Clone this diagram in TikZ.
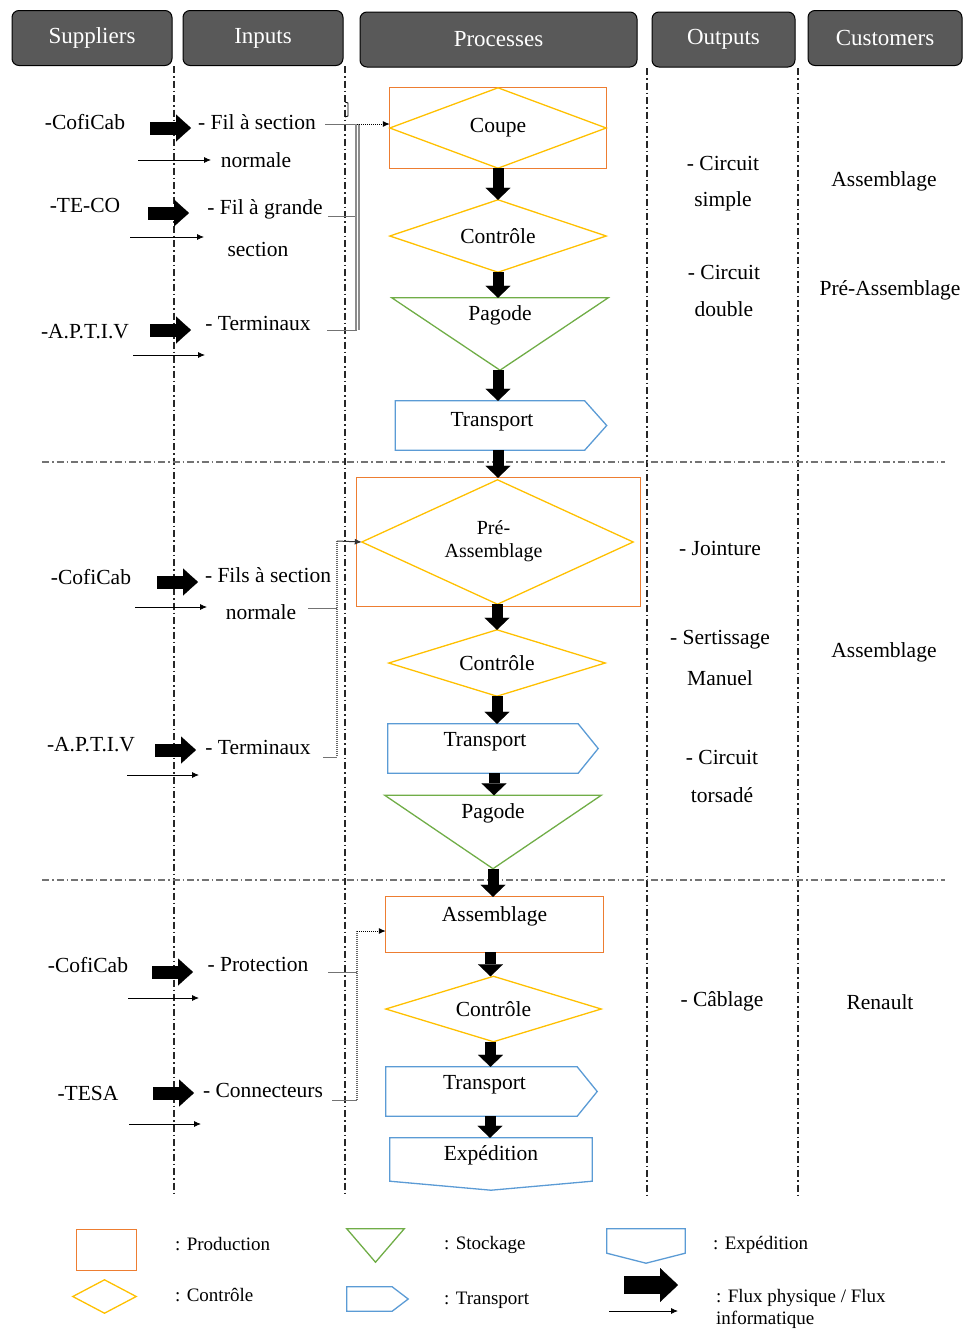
\documentclass[tikz,border=0pt]{standalone}
\usepackage{fontspec}
\setmainfont{Liberation Serif}
\usetikzlibrary{arrows.meta,calc}
\definecolor{hdrgray}{HTML}{595959}
\definecolor{prodorange}{HTML}{ED7D31}
\definecolor{ctrlyellow}{HTML}{FFC000}
\definecolor{stockgreen}{HTML}{70AD47}
\definecolor{shipblue}{HTML}{5B9BD5}
\begin{document}
\begin{tikzpicture}[x=1pt,y=-1pt,
  hdr/.style={draw=black, fill=hdrgray, rounded corners=7pt, line width=1pt,
    text=white, font=\fontsize{23}{26}\selectfont, inner sep=0pt},
  txt/.style={font=\fontsize{21.5}{24}\selectfont, inner sep=0pt},
  smalltxt/.style={font=\fontsize{20}{22}\selectfont, inner sep=0pt},
  legtxt/.style={font=\fontsize{19}{21}\selectfont, inner sep=0pt, anchor=west},
  bbox/.style 2 args={minimum width=#1, minimum height=#2, inner sep=0pt},
  lane/.style={draw=black!85, line width=1.2pt, dash pattern=on 7pt off 3pt on 1.5pt off 3pt},
  band/.style={draw=black!55, line width=1.1pt, dash pattern=on 7pt off 3pt on 1.5pt off 3pt},
  prodshape/.style={draw=prodorange, line width=1.3pt},
  ctrlshape/.style={draw=ctrlyellow, line width=1.3pt},
  stockshape/.style={draw=stockgreen, line width=1.3pt},
  shipshape/.style={draw=shipblue, line width=1.3pt},
  flowv/.style={draw=black, line width=11pt,
    -{Triangle[length=12pt,width=25pt,line width=0.1pt]}},
  flowh/.style={draw=black, line width=13pt,
    -{Triangle[length=15pt,width=27pt,line width=0.1pt]}},
  infoflow/.style={draw=black, line width=0.8pt, -{Latex[length=7pt,width=6pt]}},
  brk/.style={draw=black!55, line width=1pt},
  brkv/.style={draw=black!45, line width=2.2pt, double=white, double distance=0.6pt},
  brkdot/.style={draw=black!60, line width=1pt, densely dotted},
  dotarrow/.style={draw=black, line width=1pt, densely dotted, -{Latex[length=7pt,width=6pt]}}
]
\useasboundingbox (0,0) rectangle (969,1331);

% ---------- column headers ----------
\node[hdr, minimum width=160pt, minimum height=55pt] (hsup) at (92,38) {Suppliers};
\node[hdr, minimum width=160pt, minimum height=55pt] (hinp) at (263,38) {Inputs};
\node[hdr, minimum width=277pt, minimum height=55pt] (hpro) at (498.5,39.5) {Processes};
\node[hdr, minimum width=143pt, minimum height=55pt] (hout) at (723.5,39.5) {Outputs};
\node[hdr, minimum width=154pt, minimum height=55pt] (hcus) at (885,38) {Customers};

% ---------- swim lanes and bands ----------
\draw[lane] (174,66) -- (174,1195);
\draw[lane] (345,66) -- (345,1195);
\draw[lane] (647,68) -- (647,1195);
\draw[lane] (798,68) -- (798,1195);
\draw[band] (42,462) -- (945,462);
\draw[band] (42,880) -- (945,880);

% ---------- process column, band 1 ----------
\node[bbox={216pt}{80pt}] (coupe) at (498,128) {};
\draw[prodshape] (coupe.north west) rectangle (coupe.south east);
\draw[ctrlshape] (coupe.north) -- (coupe.east) -- (coupe.south) -- (coupe.west) -- cycle;
\node[txt] at (coupe.center) {Coupe};

\node[bbox={216pt}{72pt}] (ctrla) at (498,236) {};
\draw[ctrlshape] (ctrla.north) -- (ctrla.east) -- (ctrla.south) -- (ctrla.west) -- cycle;
\node[txt] at (ctrla.center) {Contrôle};

\node[bbox={216pt}{72pt}] (paga) at (500,334) {};
\draw[stockshape] (paga.north west) -- (paga.north east) -- (paga.south) -- cycle;
\node[txt] at ([yshift=-18pt]paga.north) {Pagode};

\node[bbox={211pt}{49pt}] (tra) at (501,425.5) {};
\draw[shipshape] (tra.north west) -- ([xshift=-22pt]tra.north east) -- (tra.east)
  -- ([xshift=-22pt]tra.south east) -- (tra.south west) -- cycle;
\node[txt] at ([xshift=-9pt,yshift=4pt]tra.center) {Transport};

% ---------- process column, band 2 ----------
\node[bbox={283pt}{128pt}] (prea) at (498.5,542) {};
\draw[prodshape] (prea.north west) rectangle (prea.south east);
\node[bbox={271pt}{124pt}] (preadia) at (497.5,542) {};
\draw[ctrlshape] (preadia.north) -- (preadia.east) -- (preadia.south) -- (preadia.west) -- cycle;
\node[smalltxt, align=center] at ([xshift=-5pt,yshift=1pt]prea.center) {Pré-\\[1pt]Assemblage};

\node[bbox={216pt}{66pt}] (ctrlb) at (497,663) {};
\draw[ctrlshape] (ctrlb.north) -- (ctrlb.east) -- (ctrlb.south) -- (ctrlb.west) -- cycle;
\node[txt] at (ctrlb.center) {Contrôle};

\node[bbox={210pt}{49pt}] (trb) at (493,748.5) {};
\draw[shipshape] (trb.north west) -- ([xshift=-20pt]trb.north east) -- (trb.east)
  -- ([xshift=-20pt]trb.south east) -- (trb.south west) -- cycle;
\node[txt] at ([xshift=-8pt,yshift=7pt]trb.center) {Transport};

\node[bbox={216pt}{73pt}] (pagb) at (493,832) {};
\draw[stockshape] (pagb.north west) -- (pagb.north east) -- (pagb.south) -- cycle;
\node[txt] at ([yshift=-18pt]pagb.north) {Pagode};

% ---------- process column, band 3 ----------
\node[bbox={217pt}{55pt}] (asm) at (494.5,924.5) {};
\draw[prodshape] (asm.north west) rectangle (asm.south east);
\node[txt] at ([yshift=8pt]asm.center) {Assemblage};

\node[bbox={215pt}{65pt}] (ctrlc) at (493.5,1009) {};
\draw[ctrlshape] (ctrlc.north) -- (ctrlc.east) -- (ctrlc.south) -- (ctrlc.west) -- cycle;
\node[txt] at (ctrlc.center) {Contrôle};

\node[bbox={211pt}{49pt}] (trc) at (491.5,1091.5) {};
\draw[shipshape] (trc.north west) -- ([xshift=-20pt]trc.north east) -- (trc.east)
  -- ([xshift=-20pt]trc.south east) -- (trc.south west) -- cycle;
\node[txt] at ([xshift=-7pt,yshift=7pt]trc.center) {Transport};

\node[bbox={202pt}{52pt}] (exped) at (491,1164) {};
\draw[shipshape] (exped.north west) -- (exped.north east) -- ([yshift=9pt]exped.south east)
  -- (exped.south) -- ([yshift=9pt]exped.south west) -- cycle;
\node[txt] at ([yshift=9pt]exped.center) {Expédition};

% ---------- physical flow through the processes ----------
\draw[flowv] (coupe.south) -- (coupe.south |- ctrla.north);
\draw[flowv] (ctrla.south) -- (ctrla.south |- paga.north);
\draw[flowv] (ctrla.south |- paga.south) -- (ctrla.south |- tra.north);
\draw[flowv] (ctrla.south |- tra.south) -- (ctrla.south |- prea.north);
\draw[flowv] (preadia.south -| ctrlb.north) -- (ctrlb.north);
\draw[flowv] (ctrlb.south) -- (ctrlb.south |- trb.north);
\draw[flowv] ([xshift=-3pt]ctrlb.south |- trb.south) -- ([xshift=-3pt]ctrlb.south |- pagb.north);
\draw[flowv] (pagb.south) -- (pagb.south |- asm.north);
\draw[flowv] ([xshift=-4pt]asm.south) -- ([xshift=-4pt]asm.south |- ctrlc.north);
\draw[flowv] ([xshift=-3pt]ctrlc.south) -- ([xshift=-3pt]ctrlc.south |- trc.north);
\draw[flowv] ([xshift=-1pt]exped.north |- trc.south) -- ([xshift=-1pt]exped.north);

% ---------- suppliers and inputs, band 1 ----------
\node[txt] (s1) at (85,122) {-CofiCab};
\node[txt] (s2) at (85,205) {-TE-CO};
\node[txt] (s3) at (85,332) {-A.P.T.I.V};
\node[txt] (i1) at (257,122) {- Fil à section};
\node[txt] (i1b) at (256,160) {normale};
\node[txt] (i2) at (265,209) {- Fil à grande};
\node[txt] (i2b) at (258,249) {section};
\node[txt] (i3) at (258,323) {- Terminaux};

\coordinate (s1a) at (150,128); \coordinate (i1a) at (191,128);
\coordinate (s1f) at (138,160); \coordinate (i1f) at (211,160);
\coordinate (s2a) at (148,213); \coordinate (i2a) at (189,213);
\coordinate (s2f) at (130,237); \coordinate (i2f) at (204,237);
\coordinate (s3a) at (150,330); \coordinate (i3a) at (191,330);
\coordinate (s3f) at (133,355); \coordinate (i3f) at (205,355);
\draw[flowh] (s1a) -- (i1a);
\draw[infoflow] (s1f) -- (i1f);
\draw[flowh] (s2a) -- (i2a);
\draw[infoflow] (s2f) -- (i2f);
\draw[flowh] (s3a) -- (i3a);
\draw[infoflow] (s3f) -- (i3f);

\coordinate (k1t) at (357,124);
\coordinate (k1m) at (357,216);
\coordinate (k1b) at (357,330);
\draw[brk] (325,124) -- (k1t);
\draw[brk] (328,216) -- (k1m);
\draw[brk] (327,330) -- (k1b);
\draw[brkv] (k1t) -- (k1b);
\draw[black, line width=0.9pt] (345,102) -- (348,103) -- (348,116) -- (345,117);
\draw[dotarrow] (k1t) -- (coupe.west |- k1t);

% ---------- suppliers and inputs, band 2 ----------
\node[txt] (s4) at (91,577) {-CofiCab};
\node[txt] (s5) at (91,745) {-A.P.T.I.V};
\node[txt] (i4) at (268,575) {- Fils à section};
\node[txt] (i4b) at (261,612) {normale};
\node[txt] (i5) at (258,747) {- Terminaux};

\coordinate (s4a) at (157,582); \coordinate (i4a) at (198,582);
\coordinate (s4f) at (135,607); \coordinate (i4f) at (207,607);
\coordinate (s5a) at (155,750); \coordinate (i5a) at (196,750);
\coordinate (s5f) at (127,775); \coordinate (i5f) at (199,775);
\draw[flowh] (s4a) -- (i4a);
\draw[infoflow] (s4f) -- (i4f);
\draw[flowh] (s5a) -- (i5a);
\draw[infoflow] (s5f) -- (i5f);

\coordinate (k2t) at (337,541);
\coordinate (k2m) at (337,608);
\coordinate (k2b) at (337,757);
\draw[brk] (308,608) -- (k2m);
\draw[brk] (323,757) -- (k2b);
\draw[brkdot, line width=2pt] (k2t) -- (k2b);
\draw[brk, draw=black!80, -{Latex[length=7pt,width=6pt]}] (k2t) -- (preadia.west);

% ---------- suppliers and inputs, band 3 ----------
\node[txt] (s6) at (88,965) {-CofiCab};
\node[txt] (s7) at (88,1093) {-TESA};
\node[txt] (i6) at (258,964) {- Protection};
\node[txt] (i7) at (263,1090) {- Connecteurs};

\coordinate (s6a) at (152,972); \coordinate (i6a) at (193,972);
\coordinate (s6f) at (128,998); \coordinate (i6f) at (199,998);
\coordinate (s7a) at (153,1093); \coordinate (i7a) at (194,1093);
\coordinate (s7f) at (129,1124); \coordinate (i7f) at (201,1124);
\draw[flowh] (s6a) -- (i6a);
\draw[infoflow] (s6f) -- (i6f);
\draw[flowh] (s7a) -- (i7a);
\draw[infoflow] (s7f) -- (i7f);

\coordinate (k3t) at (357,931);
\coordinate (k3m) at (357,972);
\coordinate (k3b) at (357,1100);
\draw[brk] (328,972) -- (k3m);
\draw[brk] (332,1100) -- (k3b);
\draw[brkdot, line width=2pt] (k3t) -- (k3b);
\draw[dotarrow] (k3t) -- (asm.west |- k3t);

% ---------- outputs ----------
\node[txt] (o1) at (723,163) {- Circuit};
\node[txt] (o1b) at (723,201) {simple};
\node[txt] (o2) at (724,272) {- Circuit};
\node[txt] (o2b) at (724,309) {double};
\node[txt] (o3) at (720,548) {- Jointure};
\node[txt] (o4) at (720,640) {- Sertissage};
\node[txt] (o4b) at (720,678) {Manuel};
\node[txt] (o5) at (722,757) {- Circuit};
\node[txt] (o5b) at (722,795) {torsadé};
\node[txt] (o6) at (722,1001) {- Câblage};

% ---------- customers ----------
\node[txt] (c1) at (884,181) {Assemblage};
\node[txt] (c2) at (890,290) {Pré-Assemblage};
\node[txt] (c3) at (884,652) {Assemblage};
\node[txt] (c4) at (880,1002) {Renault};

% ---------- legend ----------
\node[bbox={59pt}{40pt}] (lprod) at (106.5,1250) {};
\draw[prodshape] (lprod.north west) rectangle (lprod.south east);
\node[legtxt] at (175,1244) {: Production};

\node[bbox={63pt}{33pt}] (lctrl) at (104.5,1296.5) {};
\draw[ctrlshape] (lctrl.north) -- (lctrl.east) -- (lctrl.south) -- (lctrl.west) -- cycle;
\node[legtxt] at (175,1295) {: Contrôle};

\node[bbox={57pt}{33pt}] (lstock) at (375.5,1245.5) {};
\draw[stockshape] (lstock.north west) -- (lstock.north east) -- (lstock.south) -- cycle;
\node[legtxt] at (444,1245) {: Stockage};

\node[bbox={61pt}{24pt}] (ltrans) at (377.5,1299) {};
\draw[shipshape] (ltrans.north west) -- ([xshift=-16pt]ltrans.north east) -- (ltrans.east)
  -- ([xshift=-16pt]ltrans.south east) -- (ltrans.south west) -- cycle;
\node[legtxt] at (444,1300) {: Transport};

\node[bbox={78pt}{34pt}] (lship) at (646,1246) {};
\draw[shipshape] (lship.north west) -- (lship.north east) -- ([yshift=10pt]lship.south east)
  -- (lship.south) -- ([yshift=10pt]lship.south west) -- cycle;
\node[legtxt] at (713,1245) {: Expédition};

\coordinate (lfa) at (624,1285); \coordinate (lfb) at (678,1285);
\coordinate (lia) at (609,1311); \coordinate (lib) at (678,1311);
\draw[draw=black, line width=18pt, -{Triangle[length=18pt,width=34pt,line width=0.1pt]}] (lfa) -- (lfb);
\draw[infoflow] (lia) -- (lib);
\node[legtxt] at (716,1298) {: Flux physique / Flux};
\node[legtxt] at (716,1320) {informatique};
\end{tikzpicture}
\end{document}
